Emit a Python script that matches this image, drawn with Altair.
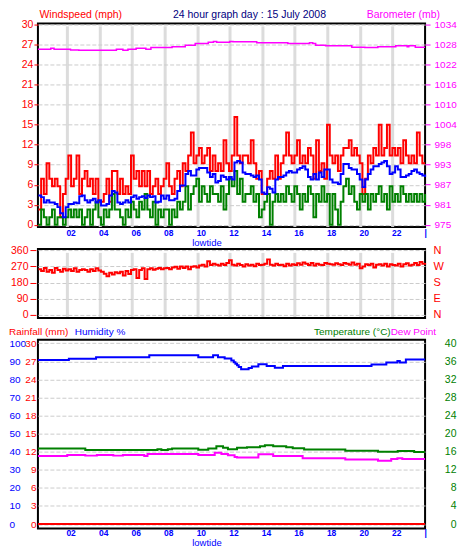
import altair as alt
import numpy as np
import pandas as pd

FONT = "Liberation Sans"
RED, GREEN, BLUE, MAGENTA, NAVY = "#ff0000", "#008000", "#0000ff", "#ff00ff", "#000080"
GRID, BAR = "#cccccc", "#dcdcdc"

# ---------------- data ----------------
SAMPLE_START, SAMPLE_END, N_SAMPLES = 0.25, 24.0, 143
sample_hours = np.linspace(SAMPLE_START, SAMPLE_END, N_SAMPLES)
MPH_PER_KT = 1.1508

gust_kt = [2, 6, 4, 8, 6,
           5, 6, 5, 1, 4, 6,
           9, 5, 6, 9, 4, 6,
           7, 5, 6, 4, 6, 3,
           3, 4, 6, 3, 7, 7,
           4, 6, 4, 5, 4, 9,
           6, 7, 5, 7, 5, 7,
           4, 5, 6, 4, 5, 6,
           8, 5, 4, 6, 7, 5,
           8, 7, 9, 12, 8, 9,
           10, 8, 9, 10, 7, 9,
           7, 8, 7, 11, 8, 7,
           9, 14, 9, 8, 9, 9,
           8, 11, 8, 6, 7, 4,
           4, 6, 7, 6, 9, 6,
           8, 9, 12, 9, 8, 9,
           11, 8, 9, 8, 10, 9,
           6, 11, 7, 8, 6, 13,
           9, 8, 9, 7, 9, 10,
           10, 11, 9, 10, 9, 8,
           4, 6, 9, 8, 10, 9,
           13, 9, 10, 13, 9, 10,
           9, 10, 8, 11, 9, 8,
           9, 8, 12, 9, 8, 8]

speed_kt = [0, 2, 1, 0, 1,
            2, 0, 1, 1, 0, 1,
            2, 1, 2, 1, 2, 0,
            1, 2, 0, 2, 3, 1,
            0, 2, 1, 2, 4, 2,
            2, 1, 0, 2, 1, 3,
            2, 1, 3, 2, 4, 2,
            1, 3, 0, 2, 1, 2,
            2, 0, 2, 1, 3, 2,
            3, 5, 2, 4, 5, 6,
            3, 5, 4, 3, 5, 4,
            4, 3, 5, 2, 4, 6,
            5, 7, 4, 6, 3, 4,
            4, 5, 3, 4, 1, 2,
            3, 4, 0, 3, 4, 3,
            4, 3, 5, 4, 3, 5,
            4, 2, 4, 3, 5, 4,
            1, 4, 3, 5, 3, 4,
            0, 4, 2, 0, 3, 5,
            6, 4, 5, 3, 2, 4,
            3, 4, 2, 4, 3, 4,
            5, 3, 4, 2, 5, 3,
            4, 3, 5, 4, 3, 4,
            3, 4, 3, 4, 3, 4]

avg_kt = [3.8, 3.6, 2.9, 3.2, 2.9,
          2.9, 2.7, 2.3, 1.5, 1.0, 2.3,
          2.7, 2.7, 2.9, 2.8, 3.7, 3.8,
          3.2, 2.9, 3.2, 3.4, 2.9, 3.2,
          2.5, 2.5, 2.7, 3.8, 4.4, 4.2,
          2.9, 2.7, 2.9, 3.2, 2.9, 3.6,
          3.8, 3.4, 3.6, 3.7, 3.5, 3.8,
          3.6, 3.7, 2.9, 3.0, 3.8, 3.4,
          3.8, 3.2, 3.2, 3.4, 4.4, 5.1,
          5.1, 6.6, 7.0, 6.4, 6.4, 7.2,
          7.4, 7.4, 7.4, 6.8, 6.2, 6.6,
          5.5, 5.7, 6.4, 6.2, 5.9, 6.2,
          5.9, 8.1, 8.3, 8.1, 6.8, 6.6,
          6.6, 6.4, 6.2, 6.4, 5.9, 4.2,
          4.0, 4.9, 4.7, 4.2, 5.9, 6.2,
          6.2, 6.4, 6.8, 7.0, 6.8, 6.8,
          7.2, 7.4, 7.6, 7.2, 6.2, 5.9,
          6.6, 5.9, 6.8, 6.2, 7.2, 7.2,
          5.9, 5.5, 5.5, 5.3, 6.6, 7.9,
          7.9, 7.4, 7.2, 7.2, 6.6, 5.9,
          4.9, 5.9, 6.6, 7.2, 7.6, 7.6,
          7.9, 8.1, 8.3, 7.6, 6.6, 6.8,
          7.6, 7.2, 6.2, 6.2, 6.4, 6.6,
          7.0, 7.2, 6.8, 6.6, 6.4, 6.2]

wind_dir = [255, 245, 262, 240, 250,
            235, 262, 250, 240, 258, 248,
            255, 245, 260, 240, 250, 255,
            250, 240, 255, 245, 260, 248,
            240, 230, 215, 235, 225, 238,
            232, 240, 220, 245, 228, 250,
            255, 205, 250, 260, 200, 255,
            260, 252, 258, 262, 255, 260,
            262, 255, 265, 268, 258, 270,
            262, 270, 255, 268, 272, 265,
            275, 280, 270, 300, 278, 285,
            280, 275, 285, 278, 290, 305,
            280, 275, 285, 278, 270, 282,
            275, 280, 272, 285, 278, 280,
            285, 310, 280, 275, 285, 278,
            280, 272, 285, 275, 282, 278,
            288, 280, 292, 285, 278, 290,
            275, 285, 280, 278, 290, 285,
            282, 280, 288, 283, 278, 290,
            285, 280, 292, 280, 285, 260,
            270, 282, 278, 285, 265, 280,
            282, 275, 285, 270, 282, 278,
            275, 285, 270, 282, 288, 275,
            280, 290, 278, 295, 285, 290]

baro_hours = [0.22, 1.01, 1.21, 2.22, 2.73, 5.04, 5.44, 5.75, 6.25, 6.85, 7.16, 8.46,
              9.27, 9.88, 10.68, 11.0, 11.2, 12.0, 12.2, 13.66, 15.57, 16.9, 17.1,
              17.28, 17.89, 19.5, 20.3, 21.1, 22.2, 22.9, 23.0, 23.4, 24.0]
baro_mb = [1026.3, 1026.6, 1026.3, 1026.1, 1026.0, 1026.3, 1026.0, 1026.3, 1026.6, 1026.3,
           1026.8, 1027.05, 1027.5, 1028.0, 1028.35, 1028.55, 1028.35, 1028.6, 1028.5,
           1028.2, 1028.0, 1028.2, 1028.0, 1027.5, 1027.3, 1026.9, 1026.8, 1027.05,
           1027.3, 1027.0, 1027.3, 1026.9, 1026.9]

hum_hours = [0.22, 2.12, 3.79, 7.06, 10.07, 10.98, 11.28, 11.69, 12.1, 12.25, 12.35,
             12.45, 12.55, 12.7, 13.16, 13.36, 13.76, 14.27, 14.77, 15.27, 20.71,
             21.62, 22.3, 22.45, 22.82, 24.0]
hum_pct = [90.8, 91.4, 92.3, 93.3, 92.3, 93.3, 92.3, 91.6, 90.5, 89.5, 88.6, 87.8,
           86.8, 85.6, 86.3, 87.2, 88.4, 87.4, 86.5, 87.4, 88.3, 89.4, 90.2, 89.4,
           91.0, 91.0]

temp_hours = [0.22, 3.13, 7.56, 7.8, 8.2, 8.46, 10.07, 10.68, 11.18, 11.59, 11.89,
              12.45, 13.06, 13.86, 14.16, 14.67, 15.47, 15.87, 16.57, 19.1, 21.11,
              22.32, 23.33, 24.0]
temp_c = [16.72, 16.36, 16.57, 16.36, 16.57, 16.72, 16.43, 16.72, 17.23, 16.86, 16.57,
          16.86, 17.0, 17.2, 17.44, 17.23, 17.0, 16.79, 16.5, 16.21, 16.0, 16.14,
          15.93, 15.93]

dew_hours = [0.22, 2.02, 3.13, 3.84, 4.85, 5.44, 6.75, 6.95, 10.07, 11.08, 11.49,
             11.89, 12.3, 12.45, 13.76, 14.67, 16.48, 19.1, 21.11, 21.92, 22.3, 22.6, 24.0]
dew_c = [15.06, 15.28, 15.14, 15.28, 15.14, 15.28, 15.06, 15.5, 15.28, 15.78, 15.5,
         15.2, 14.85, 14.7, 15.42, 15.06, 14.56, 14.27, 13.98, 14.41, 14.56, 14.41, 14.41]

rain_hours = [0.22, 24.0]
rain_mm = [0.0, 0.0]

tide_hours = [10.6]
tide_labels = ["lowtide"]

HOUR_TICKS = list(range(2, 25, 2))
WIND_TICKS = list(range(0, 31, 3))
BARO_MIN, BARO_MAX = 975.0, 1033.6
BARO_TICKS = [round(v, 2) for v in np.linspace(BARO_MIN, BARO_MAX, 11)]
DIR_TICKS = [0, 90, 180, 270, 360]
HUM_TICKS = list(range(0, 101, 10))
RAIN_TICKS = list(range(0, 31, 3))
TEMP_TICKS = list(range(0, 41, 4))

# ---------------- frames ----------------
gust_df = pd.DataFrame({"hour": sample_hours, "v": np.array(gust_kt) * MPH_PER_KT})
speed_df = pd.DataFrame({"hour": sample_hours, "v": np.array(speed_kt) * MPH_PER_KT})
avg_df = pd.DataFrame({"hour": sample_hours, "v": np.array(avg_kt) * MPH_PER_KT})
dir_df = pd.DataFrame({"hour": sample_hours, "deg": wind_dir})
baro_df = pd.DataFrame({"hour": baro_hours, "mb": baro_mb})
hum_df = pd.DataFrame({"hour": hum_hours, "v": hum_pct})
temp_df = pd.DataFrame({"hour": temp_hours, "v": temp_c})
dew_df = pd.DataFrame({"hour": dew_hours, "v": dew_c})
rain_df = pd.DataFrame({"hour": rain_hours, "v": rain_mm})
tide_df = pd.DataFrame({"hour": tide_hours, "label": tide_labels})

# ---------------- layout ----------------
W = 388
H1, H2, H3 = 204, 69, 189
X_DOMAIN = [0.22, 24.0]
R1 = [201.7, 0.7]
R2 = [65.7, 1.4]
R3 = [184.6, 3.4]

GRID_COND = {"condition": {"test": "datum.value >= 23.9", "value": "rgba(0,0,0,0)"},
             "value": BAR}
LABEL_EXPR = "datum.value >= 24 ? '|' : (datum.value < 10 ? '0' + datum.value : '' + datum.value)"


def x_axis(labels, grid, pad):
    kw = dict(values=HOUR_TICKS, title=None, ticks=False, tickSize=0, domain=False,
              labelFlush=False, labelOverlap=False)
    if labels:
        kw.update(labels=True, labelExpr=LABEL_EXPR, labelAlign="left", labelOffset=-1,
                  labelBaseline="top", labelPadding=pad, labelColor=BLUE, labelFont=FONT,
                  labelFontSize=8.5, labelFontWeight="bold")
    else:
        kw.update(labels=False)
    if grid:
        kw.update(grid=True, gridColor=GRID_COND, gridWidth=3)
    else:
        kw.update(grid=False)
    return alt.Axis(**kw)


def X(axis):
    return alt.X("hour:Q", scale=alt.Scale(domain=X_DOMAIN, nice=False, zero=False), axis=axis)


def yaxis(**kw):
    base = dict(title=None, domain=False, labelFont=FONT, labelFlush=False,
                labelOverlap=False, grid=False)
    base.update(kw)
    return alt.Axis(**base)


def txt(s, x, y, color, align="left", size=10.5):
    return alt.Chart(alt.Data(values=[{}])).mark_text(
        text=s, align=align, baseline="middle", color=color, font=FONT, fontSize=size
    ).encode(x=alt.value(x), y=alt.value(y))


def step(df, field, color, xa, scale, axis, width=2.0, opacity=1.0):
    return alt.Chart(df).mark_line(interpolate="step-after", color=color, strokeWidth=width,
                                   strokeOpacity=opacity).encode(
        x=X(xa), y=alt.Y(f"{field}:Q", scale=scale, axis=axis))


# panel 1: wind + barometer
xa1 = x_axis(True, True, 1)
wind_scale = alt.Scale(domain=[0, 30], range=R1, nice=False, zero=False)
wind_axis = yaxis(orient="left", values=WIND_TICKS, labelColor=RED, labelFontSize=10.5,
                  tickColor=RED, tickSize=4, labelPadding=1, grid=True, gridColor=GRID,
                  gridDash=[4, 2])
baro_scale = alt.Scale(domain=[BARO_MIN, BARO_MAX], range=R1, nice=False, zero=False)
baro_axis = yaxis(orient="right", values=BARO_TICKS, labelExpr="format(datum.value, '.0f')",
                  labelColor=MAGENTA, labelFontSize=10, tickColor=MAGENTA, tickSize=5,
                  labelPadding=4)

wind = alt.layer(
    step(gust_df, "v", RED, xa1, wind_scale, wind_axis),
    step(speed_df, "v", GREEN, xa1, wind_scale, wind_axis),
    step(avg_df, "v", BLUE, xa1, wind_scale, wind_axis),
)
baro = step(baro_df, "mb", MAGENTA, xa1, baro_scale, baro_axis, width=1.5)
tide1 = alt.Chart(tide_df).mark_text(color=BLUE, font=FONT, fontSize=9.5, baseline="middle").encode(
    x=X(xa1), y=alt.value(H1 + 16), text="label:N")

p1 = alt.layer(
    wind, baro, tide1,
    txt("Windspeed (mph)", 1.5, -8.5, RED),
    txt("24 hour graph day : 15 July 2008", 212, -8.5, NAVY, align="center"),
    txt("Barometer (mb)", 403, -8.5, MAGENTA, align="right"),
).resolve_scale(y="independent").properties(width=W, height=H1)

# panel 2: wind direction
xa2 = x_axis(False, True, 0)
dir_scale = alt.Scale(domain=[0, 360], range=R2, nice=False, zero=False)
dir_left = yaxis(orient="left", values=DIR_TICKS, labelColor=RED, labelFontSize=10.5,
                 tickColor=RED, tickSize=6, offset=2, labelPadding=2)
dir_right = yaxis(orient="right", values=DIR_TICKS, labelColor=RED, labelFontSize=11,
                  ticks=False, tickSize=0, labelPadding=8, labelAlign="left",
                  labelExpr="datum.value == 90 ? 'E' : datum.value == 180 ? 'S' : datum.value == 270 ? 'W' : 'N'",
                  grid=True, gridColor=GRID, gridDash=[4, 2])
p2 = alt.layer(
    step(dir_df, "deg", RED, xa2, dir_scale, dir_left),
    step(dir_df, "deg", RED, xa2, dir_scale, dir_right, opacity=0.0),
).resolve_scale(y="independent").properties(width=W, height=H2)

# panel 3: rain, humidity, temperature, dew point
xa3 = x_axis(True, False, 0)
hum_scale = alt.Scale(domain=[0, 100], range=R3, nice=False, zero=False)
rain_scale = alt.Scale(domain=[0, 30], range=R3, nice=False, zero=False)
temp_scale = alt.Scale(domain=[0, 40], range=R3, nice=False, zero=False)
hum_axis = yaxis(orient="left", values=HUM_TICKS, labelColor=BLUE, labelFontSize=10,
                 ticks=False, tickSize=0, labelPadding=29, labelAlign="left",
                 grid=True, gridColor=GRID, gridDash=[4, 2])
rain_axis = yaxis(orient="left", values=RAIN_TICKS, labelColor=RED, labelFontSize=10,
                  ticks=False, tickSize=0, labelPadding=2)
temp_axis = yaxis(orient="right", values=TEMP_TICKS, labelColor=GREEN, labelFontSize=10.5,
                  ticks=False, tickSize=0, labelPadding=31, labelAlign="right")

tempdew = alt.layer(
    step(temp_df, "v", GREEN, xa3, temp_scale, temp_axis),
    step(dew_df, "v", MAGENTA, xa3, temp_scale, temp_axis),
)
tide3 = alt.Chart(tide_df).mark_text(color=BLUE, font=FONT, fontSize=9.5, baseline="middle").encode(
    x=X(xa3), y=alt.value(H3 + 15), text="label:N")

p3 = alt.layer(
    step(hum_df, "v", BLUE, xa3, hum_scale, hum_axis),
    step(rain_df, "v", RED, xa3, rain_scale, rain_axis),
    tempdew, tide3,
    txt("Rainfall (mm)", -29, -8, RED, size=10),
    txt("Humidity %", 37, -8, BLUE, size=10),
    txt("Temperature (°C)", 353.5, -8, GREEN, align="right", size=10),
    txt("Dew Point", 353.5, -8, MAGENTA, size=10),
).resolve_scale(y="independent").properties(width=W, height=H3)

chart = alt.vconcat(p1, p2, p3, spacing=22, bounds="flush").properties(
    padding=0, background="white"
).configure_view(stroke="black", strokeWidth=2).configure_axis(minExtent=0)

chart.save("out.html", embed_options={"renderer": "svg", "actions": False})
